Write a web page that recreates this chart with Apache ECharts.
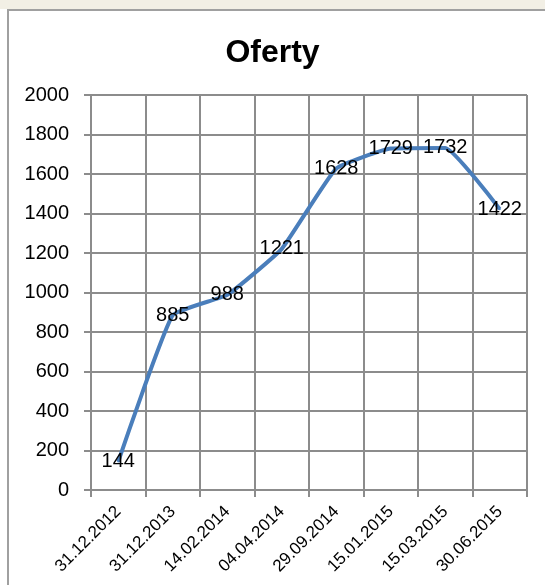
<!DOCTYPE html>
<html>
<head>
<meta charset="utf-8">
<script src="https://cdn.jsdelivr.net/npm/echarts@6/dist/echarts.min.js"></script>
<style>
  html, body { margin: 0; padding: 0; background: #ffffff; }
  #strip { position: absolute; left: 0; top: 0; width: 545px; height: 9px; background: #f2efe5; }
  #frame { position: absolute; left: 7px; top: 9px; width: 538px; height: 576px;
           border-top: 2px solid #a0a0a0; border-left: 2px solid #a0a0a0; box-sizing: border-box; }
  #chart { position: absolute; left: 0; top: 0; width: 545px; height: 585px; }
</style>
</head>
<body>
<div id="strip"></div>
<div id="frame"></div>
<div id="chart"></div>
<script>
// Oferty - liczba ofert w kolejnych datach
var dates = ['31.12.2012', '31.12.2013', '14.02.2014', '04.04.2014',
             '29.09.2014', '15.01.2015', '15.03.2015', '30.06.2015'];
var offers = [144, 885, 988, 1221, 1628, 1729, 1732, 1422];
var yTicks = [0, 200, 400, 600, 800, 1000, 1200, 1400, 1600, 1800, 2000];

var gridColor = '#8c8c8c';
var font = '"Liberation Sans", Arial, sans-serif';

var chart = echarts.init(document.getElementById('chart'), null, {renderer: 'canvas'});

var option = {
    animation: false,
    title: {
        text: 'Oferty',
        left: 'center',
        top: 32,
        textStyle: {
            fontFamily: font,
            fontWeight: 'bold',
            fontSize: 32,
            lineHeight: 32,
            color: '#000'
        }
    },
    grid: {
        left: 91,
        right: 18,
        top: 95,
        bottom: 95
    },
    xAxis: {
        type: 'category',
        data: dates,
        boundaryGap: true,
        axisLine: { show: true, lineStyle: { color: gridColor, width: 2 } },
        axisTick: { show: true, length: 7, lineStyle: { color: gridColor, width: 2 } },
        splitLine: { show: true, lineStyle: { color: gridColor, width: 2 } },
        axisLabel: {
            rotate: 45,
            margin: 19,
            interval: 0,
            fontFamily: font,
            fontSize: 17,
            color: '#000'
        }
    },
    yAxis: {
        type: 'value',
        min: yTicks[0],
        max: yTicks[yTicks.length - 1],
        interval: 200,
        axisLine: { show: true, lineStyle: { color: gridColor, width: 2 } },
        axisTick: { show: true, length: 7, lineStyle: { color: gridColor, width: 2 } },
        splitLine: { show: true, lineStyle: { color: gridColor, width: 2 } },
        axisLabel: {
            margin: 22,
            fontFamily: font,
            fontSize: 20,
            color: '#000',
            formatter: function (v) { return String(v); }
        }
    },
    series: [{
        name: 'Oferty',
        type: 'line',
        data: offers,
        smooth: 0.12,
        symbol: 'circle',
        symbolSize: 2,
        showSymbol: true,
        lineStyle: { color: '#4a7ebb', width: 4 },
        itemStyle: { color: '#4a7ebb' },
        label: {
            show: true,
            position: 'inside',
            fontFamily: font,
            fontSize: 20,
            color: '#000'
        }
    }]
};
chart.setOption(option);
</script>
</body>
</html>
